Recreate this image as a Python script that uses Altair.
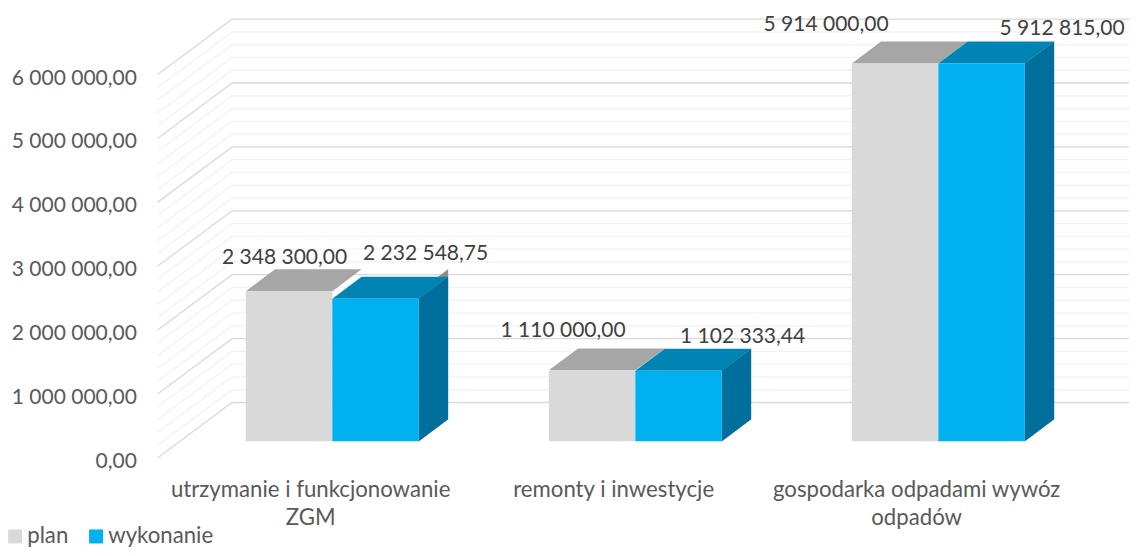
import altair as alt
import pandas as pd

# ---- chart values ----
category_lines = [["utrzymanie i funkcjonowanie", "ZGM"], ["remonty i inwestycje"], ["gospodarka odpadami wywóz", "odpadów"]]
plan = [2348300.00, 1110000.00, 5914000.00]
wykonanie = [2232548.75, 1102333.44, 5912815.00]
plan_labels = ["2 348 300,00", "1 110 000,00", "5 914 000,00"]
wykonanie_labels = ["2 232 548,75", "1 102 333,44", "5 912 815,00"]
y_ticks = [0, 1000000, 2000000, 3000000, 4000000, 5000000, 6000000]
y_tick_labels = ["0,00", "1 000 000,00", "2 000 000,00", "3 000 000,00", "4 000 000,00", "5 000 000,00", "6 000 000,00"]
series_names = ["plan", "wykonanie"]

# ---- pseudo-3D projection ----
X_DOMAIN = [-1.0703, 2.6293]
Y_DOMAIN = [-1670000, 6781000]
BAR_W = 0.2855
DX, DY = 0.0967, 344000
FLOOR_FRONT_X, FLOOR_BACK_X, RIGHT_X = -0.577, -0.331, 2.6293
FLOOR_FRONT_Y, FLOOR_BACK_Y = -261000, 607000
FONT = "Lato"
TXT = "#595959"
LABEL_SIZE = 21
CAT_SIZE = 22.2

x_s = alt.Scale(domain=X_DOMAIN, nice=False, zero=False)
y_s = alt.Scale(domain=Y_DOMAIN, nice=False, zero=False)
X = lambda f="x": alt.X(f"{f}:Q", scale=x_s, axis=None)
Y = lambda f="y": alt.Y(f"{f}:Q", scale=y_s, axis=None, stack=None)

# grid
grid_rows = []
for k in range(31):
    v = k * 200000
    for px, off in [(FLOOR_FRONT_X, FLOOR_FRONT_Y), (FLOOR_BACK_X, FLOOR_BACK_Y), (RIGHT_X, FLOOR_BACK_Y)]:
        grid_rows.append({"x": px, "y": v + off, "v": v, "major": k % 5 == 0})
grid = pd.DataFrame(grid_rows)
grid_minor = alt.Chart(grid[~grid.major]).mark_line(color="#f2f2f2", strokeWidth=1.3).encode(x=X(), y=Y(), detail="v:N")
grid_major = alt.Chart(grid[grid.major]).mark_line(color="#d9d9d9", strokeWidth=1.3).encode(x=X(), y=Y(), detail="v:N")

def side_df(vals, left):
    rows = []
    for i, v in enumerate(vals):
        xr = i + (0 if left else BAR_W)
        rows.append({"i": i, "x": xr, "y": v, "y0": 0})
        rows.append({"i": i, "x": xr + DX, "y": v + DY, "y0": DY})
    return pd.DataFrame(rows)

def top_df(vals, left):
    rows = []
    for i, v in enumerate(vals):
        xl = i - (BAR_W if left else 0)
        rows.append({"i": i, "y": v, "x": xl, "x2": xl + BAR_W})
        rows.append({"i": i, "y": v + DY, "x": xl + DX, "x2": xl + BAR_W + DX})
    return pd.DataFrame(rows)

def side(vals, left, color):
    return alt.Chart(side_df(vals, left)).mark_area(color=color, interpolate="linear").encode(
        x=X(), y=Y(), y2="y0:Q", detail="i:N")

def top(vals, left, color):
    return alt.Chart(top_df(vals, left)).mark_area(color=color, orient="horizontal", interpolate="linear").encode(
        y=Y(), x=alt.X("x:Q", scale=x_s, axis=None, stack=None), x2="x2:Q", detail="i:N")

front_rows = []
for i, (p, w) in enumerate(zip(plan, wykonanie)):
    front_rows.append({"x": i - BAR_W, "x2": i, "y": p, "y0": 0, "s": series_names[0]})
    front_rows.append({"x": i, "x2": i + BAR_W, "y": w, "y0": 0, "s": series_names[1]})
front = alt.Chart(pd.DataFrame(front_rows)).mark_rect().encode(
    x=X(), x2="x2:Q", y=Y(), y2="y0:Q",
    color=alt.Color("s:N", scale=alt.Scale(domain=series_names, range=["#d9d9d9", "#00b0f0"]),
        legend=alt.Legend(orient="none", legendX=-4, legendY=517, direction="horizontal", title=None,
                          symbolType="square", symbolSize=196, symbolStrokeWidth=0, symbolOpacity=1,
                          labelFont=FONT, labelFontSize=CAT_SIZE, labelColor=TXT, labelOffset=1,
                          columnPadding=16, padding=0)))

# value labels, each nudged as in the reference
value_offsets_plan = [(-4.5, -33), (-29, -39), (-69, -38)]
value_offsets_wyk = [(50, -44.5), (64, -33.5), (80.5, -34.5)]
layers = [grid_minor, grid_major,
          side(plan, False, "#8c8c8c"), top(plan, True, "#a6a6a6"),
          side(wykonanie, False, "#006f9c"), top(wykonanie, False, "#0084b4"),
          front]

def value_label(i, val, txt, center, off):
    d = pd.DataFrame({"x": [center], "y": [val], "t": [txt]})
    return alt.Chart(d).mark_text(font=FONT, fontSize=LABEL_SIZE, color="#404040", dx=off[0], dy=off[1]).encode(
        x=X(), y=Y(), text="t:N")

for i in range(3):
    layers.append(value_label(i, plan[i], plan_labels[i], i - BAR_W / 2, value_offsets_plan[i]))
    layers.append(value_label(i, wykonanie[i], wykonanie_labels[i], i + BAR_W / 2, value_offsets_wyk[i]))

# axis texts
ytick_df = pd.DataFrame({"x": [FLOOR_FRONT_X - 0.068] * 7, "y": [v + FLOOR_FRONT_Y for v in y_ticks], "t": y_tick_labels})
layers.append(alt.Chart(ytick_df).mark_text(font=FONT, fontSize=LABEL_SIZE, color=TXT, align="right", dy=4).encode(
    x=X(), y=Y(), text="t:N"))

cat_rows = []
for i, lines in enumerate(category_lines):
    for j, line in enumerate(lines):
        cat_rows.append({"x": i - 0.0715, "y": -762000 - j * 438000, "t": line})
layers.append(alt.Chart(pd.DataFrame(cat_rows)).mark_text(font=FONT, fontSize=CAT_SIZE, color=TXT, dy=0).encode(
    x=X(), y=Y(), text="t:N"))

chart = alt.layer(*layers).properties(
    width=1121, height=540, padding=0, autosize=alt.AutoSizeParams(type="none"), background="white"
).configure_view(stroke=None)

chart.save("out.html", embed_options={"renderer": "svg", "actions": False})
